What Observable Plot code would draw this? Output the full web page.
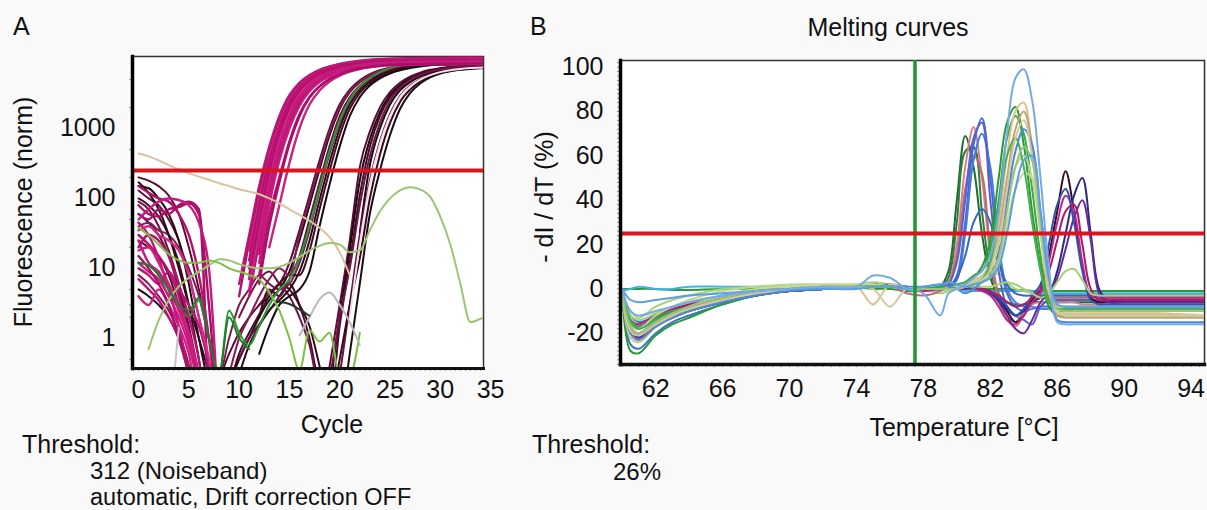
<!DOCTYPE html>
<html>
<head>
<meta charset="utf-8">
<script src="https://cdn.jsdelivr.net/npm/d3@7"></script>
<script src="https://cdn.jsdelivr.net/npm/@observablehq/plot@0.6"></script>
<style>
  html, body { margin: 0; padding: 0; background: #f9f9f9; }
  #wrap { position: relative; width: 1207px; height: 510px; overflow: hidden; font-family: "Liberation Sans", Arial, sans-serif; }
  #panelA, #panelB, #overlay { position: absolute; top: 0; }
  #panelA { left: 0; }
  #panelB { left: 500px; }
  #overlay { left: 0; pointer-events: none; }
</style>
</head>
<body>
<div id="wrap">
  <div id="panelA"></div>
  <div id="panelB"></div>
  <svg id="overlay" width="1207" height="510"></svg>
</div>
<script>
// ---------------- Panel A: amplification (log fluorescence vs cycle) ----------------
const cycles = [0,1,2,3,4,5,6,7,8,9,10,11,12,13,14,15,16,17,18,19,20,21,22,23,24,25,26,27,28,29,30,31,32,33,34,35];
const cycleTicks = [0,5,10,15,20,25,30,35];
const fluoTicks = [1,10,100,1000];
const fluoTickLabels = ["1","10","100","1000"];
const thresholdA = 250;

const magentaCurves = [
  [45,30,14,5,1.5,0.3,0.05,null,null,null,6,30,150,550,1500,3000,4500,5800,6900,7700,8400,8900,9300,9600,9800,9950,10050,10100,10150,10200,10200,10250,10250,10300,10300,10300],
  [30,22,15,9,4,1,0.2,0.05,null,null,4,24,125,460,1300,2700,4200,5500,6700,7600,8300,8800,9200,9500,9700,9850,9950,10000,10050,10100,10100,10150,10150,10200,10200,10200],
  [18,20,12,6,3,1.2,0.3,0.05,null,null,null,18,95,390,1150,2500,4000,5300,6500,7400,8100,8600,9000,9300,9500,9650,9750,9800,9850,9900,9900,9950,9950,10000,10000,10000],
  [60,50,70,60,80,90,70,0.05,null,null,null,13,75,330,1000,2300,3800,5100,6300,7200,7900,8400,8800,9100,9300,9450,9550,9600,9650,9700,9700,9750,9750,9800,9800,9800],
  [25,12,9,5,2.5,1,0.2,0.05,null,null,null,10,58,280,900,2100,3600,4900,6100,7000,7700,8200,8600,8900,9100,9250,9350,9400,9450,9500,9500,9550,9550,9600,9600,9600],
  [10,8,6,9,5,3,1.5,0.4,0.05,null,null,7,42,230,800,1900,3400,4700,5900,6800,7500,8000,8400,8700,8900,9050,9150,9200,9250,9300,9300,9350,9350,9400,9400,9400],
  [35,40,30,25,18,8,2,0.5,0.05,null,null,5,32,185,700,1700,3100,4400,5600,6600,7300,7800,8200,8500,8700,8850,8950,9000,9050,9100,9100,9150,9150,9200,9200,9200],
  [7,5,3.5,2,1,0.3,0.05,null,null,null,null,4,24,140,560,1450,2800,4100,5300,6300,7100,7700,8100,8400,8600,8750,8850,8900,8950,9000,9000,9050,9050,9100,9100,9100],
  [80,60,55,70,75,85,60,3,0.05,null,null,null,16,100,440,1200,2400,3700,4900,5900,6800,7400,7900,8200,8450,8600,8700,8750,8800,8850,8850,8900,8900,8950,8950,8950],
  [12,9,7,4,2,0.8,0.2,0.05,null,null,null,null,12,80,350,1000,2100,3400,4600,5600,6500,7200,7700,8000,8250,8400,8500,8550,8600,8650,8650,8700,8700,8750,8750,8750],
  [20,30,25,15,6,2,0.5,0.05,null,null,null,null,8,55,200,650,1600,2800,4000,5100,6000,6800,7300,7700,8000,8200,8300,8350,8400,8450,8450,8500,8500,8550,8550,8550],
  [4,3,5,3,1.5,0.6,0.1,0.05,null,null,null,null,null,20,80,320,1000,2200,3500,4700,5700,6500,7100,7500,7800,8000,8100,8150,8200,8250,8250,8300,8300,8350,8350,8350],
  [150,120,100,90,60,30,8,1,0.05,null,null,8,45,240,850,2000,3500,4800,6000,6900,7600,8100,8500,8800,9000,9150,9250,9300,9350,9400,9400,9450,9450,9500,9500,9500],
  [50,70,90,100,95,80,45,10,0.05,null,null,null,20,120,500,1300,2600,3900,5100,6100,7000,7600,8100,8400,8650,8800,8900,8950,9000,9050,9050,9100,9100,9150,9150,9150],
  [15,10,6,3,1,0.3,0.05,null,null,null,null,null,6,40,170,600,1500,2800,4000,5100,6000,6700,7200,7600,7900,8100,8200,8250,8300,8350,8350,8400,8400,8450,8450,8450]
];
const magentaColors = ["#c0157a","#b3126e","#d0207f","#a8106a","#c8197f","#b81a72","#d42a8a","#c0157a","#a60f63","#cc1b80","#b3126e","#c8247f","#b5116c","#c41c7c","#a90f66"];

const midCurves = [
  [200,180,150,110,60,20,5,1,0.3,0.6,1.2,2,3,4.5,6,12,35,110,350,1000,2200,3600,4900,6000,6800,7400,7800,8100,8300,8400,8500,8550,8600,8600,8650,8650],
  [150,140,100,60,25,6,1,0.2,0.05,0.2,0.5,1,2,3.5,5,9,25,80,260,800,1900,3300,4600,5700,6600,7200,7700,8000,8200,8350,8450,8500,8550,8550,8600,8600],
  [90,70,40,18,6,1.5,0.3,0.05,null,null,0.5,1,1.6,2.5,4,7,15,50,170,560,1500,2800,4100,5300,6300,7000,7500,7900,8100,8250,8350,8400,8450,8450,8500,8500],
  [40,45,35,30,20,10,4,1,0.3,1,3,5,8,6,5,6,12,35,130,440,1200,2500,3800,5000,6000,6800,7400,7800,8100,8300,8400,8450,8500,8500,8550,8550],
  [170,120,70,30,10,3,1,0.3,0.05,null,0.3,0.8,1.5,2.5,3.5,5,9,25,95,330,1000,2200,3500,4700,5800,6600,7200,7600,7900,8100,8200,8250,8300,8300,8350,8350],
  [25,20,15,8,3,1,0.2,0.05,null,0.2,0.6,1.2,2.2,4,6,8,8,18,70,250,800,1900,3200,4400,5500,6400,7100,7600,7900,8100,8200,8250,8300,8300,8350,8350],
  [8,6,4,2.5,1.2,0.4,0.05,null,null,0.3,1,2,4,7,10,8,30,95,300,900,2000,3400,4700,5800,6700,7300,7800,8100,8300,8450,8550,8600,8650,8650,8700,8700],
  [null,null,null,null,null,null,null,null,null,null,null,null,0.6,1.5,3,4,5,9,40,160,550,1500,2800,4100,5200,6100,6800,7300,7700,8000,8200,8300,8350,8400,8400,8400],
  [12,11,8,4,3,2,3.5,1,0.3,2.5,1.2,0.8,1.5,3,5,7,14,40,140,480,1300,2600,4000,5300,6400,7300,8000,8500,8800,9000,9100,9200,9250,9300,9300,9300]
];
const midColors = ["#5c0c34","#1c0c14","#6a1040","#7d1c4d","#2a0c1a","#4a0a28","#8a1a55","#180a10","#2a9a35"];

const lateCurves = [
  [60,45,30,15,5,1.2,0.2,0.05,null,null,null,null,null,null,null,null,null,null,0.05,0.4,3,25,280,900,2000,3300,4500,5500,6300,6900,7300,7600,7800,7950,8050,8100],
  [5,4,3,2,1,0.4,0.05,null,null,null,null,null,null,null,null,null,null,null,0.05,0.2,2,18,180,700,1700,3000,4200,5200,6000,6600,7000,7300,7500,7650,7750,7800],
  [100,80,55,30,12,3,0.5,0.05,null,null,null,null,2,5,4,6,3,1,0.2,0.1,1.5,12,110,550,1500,2800,4000,5100,6000,6700,7200,7500,7700,7850,7950,8000],
  [null,null,null,null,null,null,null,null,null,null,null,null,null,null,null,null,null,null,null,null,null,null,32,300,1000,2200,3500,4600,5500,6200,6700,7000,7250,7400,7500,7550],
  [130,100,80,50,25,8,2,0.4,0.05,null,null,null,null,null,null,null,null,null,null,0.05,0.3,3,30,180,650,1600,2900,4100,5100,5900,6500,6900,7200,7400,7500,7600],
  [null,null,null,null,null,null,null,null,null,null,null,null,3,4,6,5,3,1.5,0.4,0.1,0.5,3,14,100,420,1200,2400,3600,4700,5600,6200,6700,7000,7200,7350,7450],
  [null,null,null,null,null,null,null,null,null,null,2,4,7,9,6,4,2,0.8,0.2,0.3,2,10,80,400,1200,2500,3800,4900,5800,6500,7000,7350,7600,7750,7850,7900],
  [null,null,null,null,null,null,null,null,null,null,null,null,null,null,null,null,null,null,null,null,0.05,0.6,6,60,250,800,1900,3200,4400,5400,6100,6600,6900,7100,7250,7350],
  [null,null,null,null,null,null,null,null,null,null,null,null,null,null,null,null,null,null,null,null,null,2,22,160,600,1500,2800,4000,5000,5800,6400,6800,7100,7300,7400,7500]
];
const lateColors = ["#5c0c34","#1a0a12","#4a0a28","#150a0f","#6a1242","#3a0820","#701548","#1c0c14","#f0e0e8"];

const noiseCurves = [
  [440,400,350,300,260,230,205,185,165,150,135,125,115,100,85,70,58,48,38,28,17,8,null,null,null,null,null,null,null,null,null,null,null,null,null,null],
  [null,0.7,1.8,3.5,5.5,7.3,9,11,13.5,13,11.5,10.5,10,10,10.5,12,14.5,18,21,23,22,17,18,35,65,100,130,145,135,105,55,22,6,1.7,1.9,2.2],
  [38,30,22,16,13,12,12,13,12,10,9,8,7,4.5,2.5,1,0.35,1.3,0.9,1.2,0.3,0.3,1.2,null,null,null,null,null,null,null,null,null,null,null,null,null],
  [12,11,8,5,3,2.5,3.8,1,0.3,2,1,0.7,null,null,null,null,null,null,null,null,null,null,null,null,null,null,null,null,null,null,null,null,null,null,null,null],
  [null,null,null,null,null,null,null,null,null,null,null,null,null,null,null,null,1.1,2,3.6,4.5,3,1.7,0.8,null,null,null,null,null,null,null,null,null,null,null,null,null],
  [null,null,null,0.05,1.4,null,null,null,null,null,null,null,null,null,null,null,null,null,null,null,null,null,null,null,null,null,null,null,null,null,null,null,null,null,null,null],
  [null,null,null,null,null,null,null,null,null,null,null,null,null,null,3.3,3.1,2.6,2.1,null,null,null,null,null,null,null,null,null,null,null,null,null,null,null,null,null,null]
];
const noiseColors = ["#dcc0a0","#9cc474","#7cc046","#1f7f2c","#b8b8c2","#c4c4cc","#1f3a28"];

// ---------------- Panel B: melting curves ----------------
const temps = [60,60.5,61,62,63,64,66,68,70,72,74,75,76,77,78,79,79.5,80,80.5,81,81.5,82,82.5,83,83.5,84,84.5,85,85.5,86,86.5,87,87.5,88,88.5,89,90,92,95];
const tempTicks = [62,66,70,74,78,82,86,90,94];
const dIdTTicks = [-20,0,20,40,60,80,100];
const dIdTTickLabels = ["-20","0","20","40","60","80","100"];
const thresholdB = 25;
const cursorTemp = 77.5;

const meltFlat = [
  [0,0,0,0,-0.5,-0.5,0,0,0,0.5,0.5,0,0,-1,-1,-0.5, 0,0,0,0,0,0,0,0,-0.5,-0.5,-1,-1,-1,-1,-1,-1,-1,-1,-1,-1,-1,-1,-1],
  [-1,0,1,0,0,1,1,1,1,1,1,1,1,1,0,1, 2,0,-1,-1,-1,-1,-1,-1,-1,-1,-1,-2,-2,-2,-2,-2,-2,-2,-2,-2,-2,-2,-2],
  [-2,-10,-13,-8,-5,-3,0,1,1,1,2,3,2,1,0,-2, -1,0,1,2,3,5,7,3,0,-1,-2,-3,-3,-4,-4,-4,-4,-4,-4,-4,-4,-4,-4]
];
const flatColors = ["#2a9a35","#40b0e8","#a8d078"];

const meltPeak81 = [
  [-2,-20,-22,-16,-12,-9,-5,-2,0,1,1,2,1,0,0,1, 8,40,69,55,25,5,-3,-6,-7,-7,-6,-6,-6,-6,-6,-6,-6,-6,-6,-6,-6,-6,-6],
  [-1,-15,-18,-13,-10,-8,-4,-2,0,1,1,1,1,0,0,0.5, 5,30,62,64,35,8,-2,-8,-12,-10,-6,-4,-3,-3,-3,-3,-3,-3,-3,-3,-3,-3,-3],
  [-2,-18,-20,-15,-12,-9,-5,-2,-1,0,1,1,1,0,-1,0, 3,20,55,73,50,15,-5,-14,-17,-12,-7,-6,-6,-6,-6,-6,-7,-7,-7,-7,-7,-7,-7],
  [-3,-22,-24,-17,-13,-10,-6,-3,-1,0,1,1,1,-2,-3,-1, 2,15,45,60,52,18,-3,-12,-15,-10,-5,-4,-4,-4,-4,-4,-4,-4,-4,-4,-4,-4,-4],
  [-2,-25,-27,-20,-15,-12,-7,-3,-1,0,0.5,1,2,1,0,1, 1,6,30,65,77,50,15,-2,-8,-10,-9,-8,-8,-8,-8,-8,-8,-8,-8,-8,-8,-8,-8],
  [-1,-20,-22,-17,-13,-10,-6,-3,-1,0,1,1,1,0,0,0.5, 0.5,4,25,58,70,55,20,0,-6,-8,-8,-9,-9,-9,-9,-9,-9,-9,-9,-9,-9,-9,-9],
  [-2,-18,-21,-16,-13,-10,-6,-3,-1,0,1,2,1,0,0,0, 2,12,40,68,75,40,8,-8,-12,-14,-16,-8,-5,-5,-5,-5,-5,-5,-5,-5,-5,-5,-5],
  [-1,-12,-15,-12,-9,-7,-4,-2,0,1,1,1,1,0,0,0.5, 1,5,15,30,36,30,12,2,-2,-3,-3,-3,-3,-3,-3,-3,-3,-3,-3,-3,-3,-3,-3]
];
const peak81Colors = ["#1f6b30","#2e7d3a","#d4808c","#c06878","#3d6fd0","#4a7ae0","#5b5fc8","#3868c0"];

const meltPeak84 = [
  [-1,-28,-29,-21,-16,-13,-7,-3,-1,0,1,2,1,0,0,0.5, 0.5,1,2,5,10,22,50,75,82,65,35,10,-8,-12,-12,-12,-12,-12,-12,-12,-12,-12,-12],
  [0,-14,-17,-13,-10,-8,-4,-2,0,1,1,1,1,0,0,1, 1,2,3,6,8,18,40,68,78,70,45,15,-5,-10,-10,-10,-10,-10,-10,-10,-10,-10,-10],
  [-2,-20,-23,-17,-13,-10,-5,-2,0,1,1,-7,2,0,0,0, 0.5,1,2,4,6,12,30,60,80,84,60,25,-2,-10,-11,-11,-11,-11,-11,-11,-11,-11,-12],
  [-1,-18,-20,-15,-12,-9,-5,-2,0,1,1,1,1,0,0,0, 0,1,1,3,5,10,25,50,72,80,65,30,0,-12,-13,-13,-13,-13,-13,-13,-13,-13,-13],
  [-1,-16,-18,-12,-8,-5,-1,1,2,2,2,2,1,0,0,0, 0,1,2,3,5,10,22,42,55,60,50,25,2,-8,-8,-8,-8,-8,-8,-8,-8,-8,-8],
  [-2,-22,-24,-17,-12,-8,-3,0,1,2,2,2,1,0,0,0, 0,0,1,2,3,5,12,30,45,52,50,30,5,-10,-12,-12,-12,-12,-12,-12,-12,-12,-12],
  [-1,-20,-23,-17,-13,-10,-6,-3,-1,0,1,1,1,1,1,2, 1,0,-2,0,3,6,15,40,62,72,65,35,5,-14,-15,-15,-15,-15,-15,-15,-15,-15,-15],
  [0,-15,-18,-14,-11,-8,-4,-1,0,1,1,1,1,0,0,0, 0,0,1,2,4,12,35,60,68,55,30,8,-6,-9,-9,-9,-9,-9,-9,-9,-9,-9,-9],
  [-2,-19,-21,-16,-12,-9,-5,-2,0,1,1,0,-8,0,0,0, 0,0,1,2,4,8,20,45,68,76,60,28,0,-11,-12,-12,-12,-12,-12,-12,-12,-12,-12],
  [-1,-17,-20,-15,-11,-8,-4,-1,0,1,1,1,1,0,0,0, 0,0,1,2,3,6,14,35,55,64,58,30,3,-9,-10,-10,-10,-10,-10,-10,-10,-10,-10],
  [0,-5,-6,-5,-4,-3,-2,-1,0,0,0,1,1,0,1,2, 3,2,1,2,3,5,10,25,45,58,60,35,5,-7,-8,-8,-8,-8,-8,-8,-8,-8,-8],
  [0,-10,-12,-10,-8,-6,-3,-1,0,1,1,6,5,0,-2,-12, -2,0,2,5,8,15,35,70,95,99,85,50,10,-15,-16,-16,-16,-16,-16,-16,-16,-16,-16]
];
const peak84Colors = ["#2a9a35","#38a845","#dcc08a","#c8a070","#b8d890","#c8d890","#4a88d8","#48b050","#d0c8a0","#a0c080","#58a0e0","#78a8e8"];

const meltPeak87 = [
  [-2,-20,-22,-16,-12,-9,-5,-2,-1,0,1,1,1,0,0,0, 0,0,1,1,0,-2,-5,-10,-15,-12,-5,0,15,35,53,35,10,-4,-6,-6,-6,-6,-6],
  [-1,-18,-20,-15,-11,-8,-4,-2,0,1,1,1,1,0,0,0, 0,0,1,1,0,-2,-5,-9,-12,-10,-6,-4,-2,8,25,42,50,25,0,-5,-5,-5,-5],
  [-2,-14,-16,-12,-9,-7,-4,-2,-1,0,1,1,1,0,-1,0, 0,0,1,0,-1,-3,-8,-14,-16,-12,-6,-2,12,30,42,35,12,-3,-4,-4,-4,-4,-4],
  [-1,-20,-22,-17,-13,-10,-6,-3,-1,0,1,1,1,0,0,0, 0,0,0,1,0,-2,-6,-12,-18,-20,-14,-6,-2,5,18,32,40,22,-2,-6,-6,-6,-6],
  [-2,-16,-18,-14,-10,-7,-4,-2,0,1,1,1,1,0,0,0, 0,0,1,1,0,-1,-4,-8,-12,-9,-3,2,20,38,45,30,8,-5,-7,-7,-7,-7,-7],
  [-1,-15,-17,-13,-10,-7,-4,-2,0,1,1,1,1,0,0,0, 0,0,1,1,0,-1,-3,-6,-8,-7,-4,0,8,22,35,38,20,0,-5,-5,-5,-5,-5],
  [-1,-12,-14,-11,-8,-6,-3,-1,0,1,1,1,1,0,0,0, 0,0,1,1,1,1,2,3,2,0,-2,-4,-2,3,8,9,4,-2,-3,-3,-3,-3,-3]
];
const peak87Colors = ["#3a0a22","#2a2a8a","#c02888","#6a2a9a","#3050b8","#b01868","#a8d078"];

// ---------------- helpers ----------------
function toRows(values, xs) {
  if (values.length !== xs.length) console.error("length mismatch", values.length, xs.length);
  return values.map((v, i) => ({x: xs[i], y: v}));
}
function curveMarks(list, colors, xs, opts) {
  return list.map((vals, i) => Plot.line(toRows(vals, xs), {x: "x", y: "y", stroke: colors[i % colors.length], clip: true, ...opts}));
}

const font = '"Liberation Sans", Arial, sans-serif';

// ---------------- Plot A ----------------
const plotA = Plot.plot({
  width: 500, height: 410,
  marginLeft: 132, marginRight: 17, marginTop: 56, marginBottom: 42,
  style: {fontFamily: font, fontSize: "25px", background: "transparent", overflow: "visible", color: "#111"},
  x: {domain: [-0.6, 34.3]},
  y: {type: "log", domain: [0.37, 10700]},
  marks: [
    Plot.frame({fill: "white", stroke: "#333", strokeWidth: 1.5}),
    ...curveMarks(lateCurves, lateColors, cycles, {strokeWidth: 2, curve: "monotone-x"}),
    ...curveMarks(midCurves, midColors, cycles, {strokeWidth: 2, curve: "monotone-x"}),
    ...curveMarks(magentaCurves, magentaColors, cycles, {strokeWidth: 2.4, curve: "monotone-x"}),
    ...curveMarks(noiseCurves, noiseColors, cycles, {strokeWidth: 2, curve: "monotone-x"}),
    Plot.ruleY([thresholdA], {stroke: "#d8141c", strokeWidth: 4}),
    Plot.axisX(d3.range(-0.5, 34.5, 0.5), {tickSize: 3, stroke: "#999", text: null, label: null}),
    Plot.axisY([0.5,2,3,5,20,50,200,500,2000,5000], {tickSize: 3, stroke: "#999", text: null, label: null}),
    Plot.frame({anchor: "left", stroke: "#000", strokeWidth: 3.5}),
    Plot.frame({anchor: "bottom", stroke: "#111", strokeWidth: 3}),
    Plot.axisX(cycleTicks, {tickSize: 0, tickPadding: 12, label: null, fontSize: 25}),
    Plot.axisY(fluoTicks, {tickSize: 0, tickPadding: 17, label: null, fontSize: 25, tickFormat: (d) => fluoTickLabels[fluoTicks.indexOf(d)]})
  ]
});
document.getElementById("panelA").appendChild(plotA);

// ---------------- Plot B ----------------
const plotB = Plot.plot({
  width: 707, height: 410,
  marginLeft: 120, marginRight: 3, marginTop: 60, marginBottom: 46,
  style: {fontFamily: font, fontSize: "25px", background: "transparent", overflow: "visible", color: "#111"},
  x: {domain: [59.9, 94.8]},
  y: {domain: [-34.1, 103]},
  marks: [
    Plot.frame({fill: "white", stroke: "#333", strokeWidth: 1.5}),
    ...curveMarks(meltFlat, flatColors, temps, {strokeWidth: 2, curve: "catmull-rom"}),
    ...curveMarks(meltPeak81, peak81Colors, temps, {strokeWidth: 2, curve: "catmull-rom"}),
    ...curveMarks(meltPeak87, peak87Colors, temps, {strokeWidth: 2, curve: "catmull-rom"}),
    ...curveMarks(meltPeak84, peak84Colors, temps, {strokeWidth: 2, curve: "catmull-rom"}),
    Plot.ruleX([cursorTemp], {stroke: "#1a9a2a", strokeWidth: 3.5}),
    Plot.ruleY([thresholdB], {stroke: "#d8141c", strokeWidth: 4}),
    Plot.axisX(d3.range(60, 95, 0.5), {tickSize: 3, stroke: "#888", text: null, label: null}),
    Plot.axisY(d3.range(-34, 103, 2), {tickSize: 3, stroke: "#888", text: null, label: null}),
    Plot.frame({anchor: "left", stroke: "#000", strokeWidth: 3.5}),
    Plot.frame({anchor: "bottom", stroke: "#111", strokeWidth: 3.5}),
    Plot.axisX(tempTicks, {tickSize: 0, tickPadding: 15, label: null, fontSize: 25}),
    Plot.axisY(dIdTTicks, {tickSize: 0, tickPadding: 17, label: null, fontSize: 25, tickFormat: (d) => dIdTTickLabels[dIdTTicks.indexOf(d)]})
  ]
});
document.getElementById("panelB").appendChild(plotB);

// ---------------- overlay texts ----------------
const texts = [
  {t: "A", x: 13, y: 35, anchor: "start", size: 25},
  {t: "B", x: 530, y: 35, anchor: "start", size: 25},
  {t: "Melting curves", x: 888, y: 36, anchor: "middle", size: 25},
  {t: "Cycle", x: 332, y: 433, anchor: "middle", size: 25},
  {t: "Temperature [°C]", x: 964, y: 436, anchor: "middle", size: 25},
  {t: "Threshold:", x: 22, y: 453, anchor: "start", size: 25},
  {t: "312 (Noiseband)", x: 90, y: 479, anchor: "start", size: 24},
  {t: "automatic, Drift correction OFF", x: 90, y: 505, anchor: "start", size: 23.5},
  {t: "Threshold:", x: 532, y: 453, anchor: "start", size: 25},
  {t: "26%", x: 661, y: 480, anchor: "end", size: 24}
];
const ov = d3.select("#overlay").style("font-family", font);
ov.selectAll("text.t").data(texts).join("text").attr("class", "t")
  .attr("x", d => d.x).attr("y", d => d.y).attr("text-anchor", d => d.anchor)
  .attr("font-size", d => d.size + "px")
  .attr("fill", "#111").text(d => d.t);
ov.append("text").attr("transform", "translate(32,212) rotate(-90)").attr("text-anchor", "middle").attr("font-size", "25px").attr("fill", "#111").text("Fluorescence (norm)");
ov.append("text").attr("transform", "translate(553,197) rotate(-90)").attr("text-anchor", "middle").attr("font-size", "25px").attr("fill", "#111").text("- dI / dT (%)");
</script>
</body>
</html>
